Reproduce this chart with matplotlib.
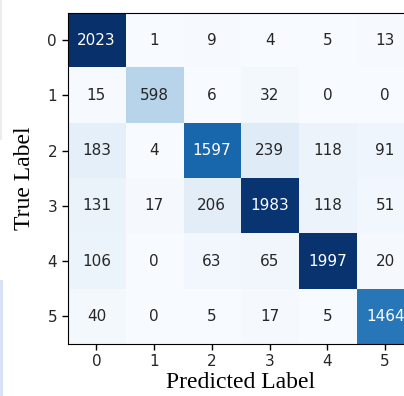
import matplotlib
matplotlib.use("Agg")
import matplotlib.pyplot as plt
from matplotlib.patches import Rectangle
import numpy as np

labels = ["0", "1", "2", "3", "4", "5"]
cm = np.array([
    [2023, 1, 9, 4, 5, 13],
    [15, 598, 6, 32, 0, 0],
    [183, 4, 1597, 239, 118, 91],
    [131, 17, 206, 1983, 118, 51],
    [106, 0, 63, 65, 1997, 20],
    [40, 0, 5, 17, 5, 1464],
])

W, H = 404, 396
fig = plt.figure(figsize=(W / 100, H / 100), dpi=100)

# thin leftover strip at the left edge of the canvas
fig.patches.append(Rectangle((0, 1 - 140 / H), 2 / W, 140 / H, transform=fig.transFigure,
                             color="#ececec", lw=0, zorder=0))
fig.patches.append(Rectangle((0, 0), 2.5 / W, 116 / H, transform=fig.transFigure,
                             color="#d9e2f5", lw=0, zorder=0))

# axes runs a little past the right edge of the canvas
left, right, top, bottom = 67.5, 414, 12.5, 344
ax = fig.add_axes([left / W, 1 - bottom / H, (right - left) / W, (bottom - top) / H])

im = ax.imshow(cm, cmap="Blues", vmin=0, vmax=cm.max(), interpolation="nearest", aspect="auto")

thresh = (cm.max() + cm.min()) / 2.0
for i in range(cm.shape[0]):
    for j in range(cm.shape[1]):
        color = "white" if cm[i, j] > thresh else "#262626"
        ax.text(j, i, str(cm[i, j]), ha="center", va="center", color=color, fontsize=11)

ax.set_xticks(range(len(labels)))
ax.set_xticklabels(labels, fontsize=11, color="#262626")
ax.set_yticks(range(len(labels)))
ax.set_yticklabels(labels, fontsize=11, color="#262626")
ax.tick_params(length=4, width=1)

ax.set_xlabel("Predicted Label", family="Liberation Serif", fontsize=17, labelpad=2)
ax.set_ylabel("True Label", family="Liberation Serif", fontsize=17, labelpad=9)

fig.savefig("out.png", dpi=100)
